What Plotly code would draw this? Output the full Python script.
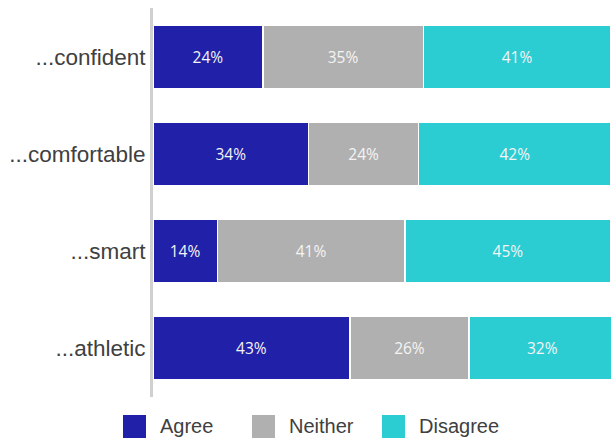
import plotly.graph_objects as go

# Survey responses: "I feel ..." statements, share of respondents (%)
categories = ["...confident", "...comfortable", "...smart", "...athletic"]
series_names = ["Agree", "Neither", "Disagree"]
agree = [24, 34, 14, 43]
neither = [35, 24, 41, 26]
disagree = [41, 42, 45, 32]
series_values = [agree, neither, disagree]
colors = ["#2020A8", "#B0B0B0", "#2CCCD3"]

W, H = 611, 439
ML, MR, MT, MB = 153, 0, 8, 42
PW, PH = W - ML - MR, H - MT - MB

fig = go.Figure()
for name, vals, col in zip(series_names, series_values, colors):
    fig.add_trace(go.Bar(
        y=categories,
        x=vals,
        name=name,
        orientation="h",
        marker=dict(color=col, line=dict(color="#FFFFFF", width=1.2)),
        text=vals,
        texttemplate="%{x}%",
        textposition="inside",
        insidetextanchor="middle",
        textangle=0,
        constraintext="none",
        textfont=dict(family="Open Sans", size=15.5, color="#F4F4F4"),
        showlegend=False,
        hoverinfo="skip",
    ))

# Custom legend below the plot: square swatch + label per series
legend_swatch_x = [123, 252, 382]
sw = 23
sy0, sy1 = 415, 438
shapes, annotations = [], []
for name, col, px in zip(series_names, colors, legend_swatch_x):
    shapes.append(dict(
        type="rect", xref="paper", yref="paper",
        x0=(px - ML) / PW, x1=(px + sw - ML) / PW,
        y0=(H - MB - sy1) / PH, y1=(H - MB - sy0) / PH,
        fillcolor=col, line=dict(width=0),
    ))
    annotations.append(dict(
        text=name, xref="paper", yref="paper",
        x=(px + sw + 12 - ML) / PW, y=(H - MB - (sy0 + sy1) / 2) / PH,
        xanchor="left", yanchor="middle", showarrow=False,
        font=dict(family="Liberation Sans", size=20, color="#404040"),
    ))

fig.update_layout(
    barmode="stack",
    bargap=0.35,
    width=W, height=H,
    margin=dict(l=ML, r=MR, t=MT, b=MB),
    paper_bgcolor="#FFFFFF",
    plot_bgcolor="#FFFFFF",
    shapes=shapes,
    annotations=annotations,
    xaxis=dict(range=[0, 100], showgrid=False, zeroline=False,
               showticklabels=False, showline=False, fixedrange=True),
    yaxis=dict(autorange="reversed", showgrid=False, zeroline=False,
               showline=True, linecolor="#D0D0D0", linewidth=3,
               ticks="", ticklabelstandoff=0,
               tickfont=dict(family="Liberation Sans", size=22.5, color="#404040")),
)

fig.write_html("out.html")
